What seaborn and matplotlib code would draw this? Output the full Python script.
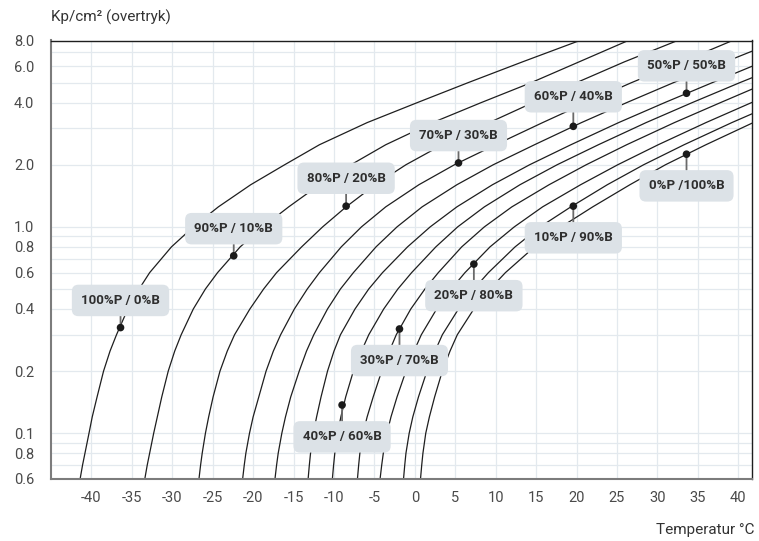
import matplotlib
matplotlib.use("Agg")
import matplotlib.pyplot as plt
from matplotlib.ticker import FixedLocator, LogLocator, NullFormatter
import numpy as np
import pandas as pd
import seaborn as sns

# propane / butane mixtures, one vapour pressure curve each
mixes = ["100%P / 0%B", "90%P / 10%B", "80%P / 20%B", "70%P / 30%B",
         "60%P / 40%B", "50%P / 50%B", "40%P / 60%B", "30%P / 70%B",
         "20%P / 80%B", "10%P / 90%B", "0%P /100%B"]

p_levels = [0.06, 0.07, 0.08, 0.1, 0.12, 0.15, 0.2, 0.25, 0.3, 0.4, 0.5, 0.6,
            0.8, 1.0, 1.25, 1.6, 2.0, 2.5, 3.2, 4.0, 5.0, 6.3, 8.0]

# temperature (°C) of each curve at those levels; curves that leave through
# the right edge end with the point read there
t_100 = [-41.4, -41.1, -40.8, -40.3, -39.9, -39.3, -38.5, -37.7, -36.9, -35.5, -34.1, -32.8,
         -30.1, -27.4, -24.3, -20.3, -16.1, -11.8, -5.9, 0.3, 6.6, 13.3, 20.4]
p_100 = p_levels
t_90 = [-33.4, -33.1, -32.8, -32.3, -31.85, -31.3, -30.5, -29.7, -28.9, -27.4, -25.9, -24.4,
        -21.6, -18.8, -15.6, -11.8, -7.9, -3.6, 2.2, 8.2, 14.4, 20.3, 26.4]
p_90 = p_levels
t_80 = [-26.7, -26.5, -26.3, -25.9, -25.5, -24.95, -24.1, -23.2, -22.3, -20.4, -18.7, -17.1,
        -14.0, -11.4, -8.5, -4.9, -1.1, 3.4, 9.2, 14.6, 20.0, 25.9, 32.5]
p_80 = p_levels
t_70 = [-21.3, -21.1, -20.9, -20.45, -20.0, -19.3, -18.4, -17.5, -16.6, -14.9, -13.3, -11.8,
        -9.1, -6.6, -3.6, 0.5, 4.9, 10.0, 15.8, 21.2, 26.8, 33.0, 39.3]
p_70 = p_levels
t_60 = [-17.3, -17.1, -16.9, -16.45, -16.0, -15.35, -14.3, -13.4, -12.5, -10.8, -9.2, -7.6,
        -4.8, -2.2, 0.9, 5.2, 9.7, 14.8, 20.6, 26.2, 32.0, 38.4, 41.7]
p_60 = p_levels[:22] + [7.1]
t_50 = [-13.2, -13.05, -12.9, -12.55, -12.15, -11.6, -10.8, -10.0, -9.2, -7.4, -5.7, -4.0,
        -0.9, 1.9, 5.2, 9.6, 14.2, 19.3, 25.2, 30.9, 36.8, 41.7]
p_50 = p_levels[:21] + [6.0]
t_40 = [-10.2, -10.05, -9.9, -9.55, -9.15, -8.55, -7.6, -6.6, -5.7, -3.85, -2.1, -0.4,
        2.6, 5.3, 8.6, 13.0, 17.6, 22.7, 28.6, 34.3, 40.2, 41.7]
p_40 = p_levels[:21] + [5.28]
t_30 = [-7.1, -6.95, -6.8, -6.4, -5.9, -5.15, -4.1, -3.15, -2.3, -0.5, 1.25, 2.9,
        5.8, 8.6, 12.0, 16.6, 21.2, 26.2, 32.1, 37.8, 41.7]
p_30 = p_levels[:20] + [4.65]
t_20 = [-4.3, -4.1, -3.9, -3.45, -2.95, -2.2, -1.1, -0.1, 0.8, 2.7, 4.5, 6.2,
        9.3, 12.3, 15.8, 20.5, 25.1, 30.1, 36.0, 41.7]
p_20 = p_levels[:19] + [4.01]
t_10 = [-1.4, -1.25, -1.1, -0.7, -0.25, 0.45, 1.5, 2.5, 3.4, 5.4, 7.3, 9.1,
        12.4, 15.5, 19.3, 23.8, 28.3, 33.3, 39.2, 41.7]
p_10 = p_levels[:19] + [3.53]
t_0 = [0.7, 0.85, 1.0, 1.35, 1.8, 2.45, 3.4, 4.35, 5.25, 7.3, 9.3, 11.2,
       14.8, 18.1, 22.0, 26.6, 31.0, 36.0, 41.7]
p_0 = p_levels[:18] + [3.18]

# marked point on each curve, and the height of its label box
dot_t = [-36.4, -22.4, -8.5, 5.4, 19.6, 33.6, -9.0, -1.9, 7.3, 19.6, 33.6]
dot_p = [0.325, 0.724, 1.26, 2.04, 3.07, 4.44, 0.137, 0.32, 0.66, 1.26, 2.25]
label_p = [0.44, 0.98, 1.72, 2.77, 4.27, 6.03, 0.096, 0.225, 0.464, 0.885, 1.58]

x_ticks = list(range(-40, 41, 5))
y_ticks = [0.06, 0.08, 0.1, 0.2, 0.4, 0.6, 0.8, 1.0, 2.0, 4.0, 6.0, 8.0]
y_labels = ["0.6", "0.8", "0.1", "0.2", "0.4", "0.6", "0.8", "1.0", "2.0", "4.0", "6.0", "8.0"]

temps = [t_100, t_90, t_80, t_70, t_60, t_50, t_40, t_30, t_20, t_10, t_0]
press = [p_100, p_90, p_80, p_70, p_60, p_50, p_40, p_30, p_20, p_10, p_0]
df = pd.concat([pd.DataFrame({"mix": m, "temp": t, "pressure": p})
                for m, t, p in zip(mixes, temps, press)], ignore_index=True)

sns.set_style("white")
plt.rcParams["font.family"] = ["Roboto", "DejaVu Sans"]
plt.rcParams["axes.unicode_minus"] = False

fig = plt.figure(figsize=(7.59, 5.41), dpi=100)
ax = fig.add_axes([51 / 759, 1 - 479 / 541, 701 / 759, 438.5 / 541])

sns.lineplot(data=df, x="temp", y="pressure", units="mix", estimator=None,
             sort=False, color="#1e1e1e", lw=0.9, legend=False, ax=ax, zorder=2)

ax.set_yscale("log")
ax.set_xlim(-45, 41.7)
ax.set_ylim(0.06, 8.0)

ax.xaxis.set_major_locator(FixedLocator(x_ticks))
ax.set_xticklabels([str(v) for v in x_ticks])
ax.yaxis.set_major_locator(FixedLocator(y_ticks))
ax.set_yticklabels(y_labels)
ax.yaxis.set_minor_locator(LogLocator(base=10, subs=np.arange(1, 10)))
ax.yaxis.set_minor_formatter(NullFormatter())

ax.grid(True, axis="x", which="major", color="#e3e9ee", lw=0.9, zorder=0)
ax.grid(True, axis="y", which="both", color="#e3e9ee", lw=0.9, zorder=0)
ax.set_axisbelow(True)

ax.tick_params(axis="both", which="both", length=0, labelsize=10.5, labelcolor="#4a4a4a")
ax.tick_params(axis="x", pad=9)
ax.tick_params(axis="y", pad=12)
ax.set_xlabel("")
ax.set_ylabel("")

for side in ["left", "bottom"]:
    ax.spines[side].set_color("#7c7c7c")
    ax.spines[side].set_linewidth(1.5)
for side in ["top", "right"]:
    ax.spines[side].set_color("#1e1e1e")
    ax.spines[side].set_linewidth(1.0)

# label boxes with a short leader to the marked point
for m, t, p, lp in zip(mixes, dot_t, dot_p, label_p):
    ax.annotate(m, xy=(t, p), xytext=(t, lp), textcoords="data",
                ha="center", va="center", fontsize=9.5, fontweight="semibold",
                color="#2e2e2e", zorder=4,
                bbox=dict(boxstyle="round,pad=0.7,rounding_size=0.5",
                          fc="#dce2e7", ec="none"),
                arrowprops=dict(arrowstyle="-", color="#6a6a6a", lw=1.3,
                                shrinkA=0, shrinkB=0))

sns.scatterplot(x=dot_t, y=dot_p, color="#1a1a1a", s=30, edgecolor="none",
                ax=ax, zorder=5, legend=False)

fig.text(51 / 759, 1 - 17 / 541, "Kp/cm² (overtryk)", ha="left", va="center",
         fontsize=11, color="#333333")
fig.text(754 / 759, 1 - 530 / 541, "Temperatur °C", ha="right", va="center",
         fontsize=11, color="#333333")

fig.savefig("out.png", dpi=100)
